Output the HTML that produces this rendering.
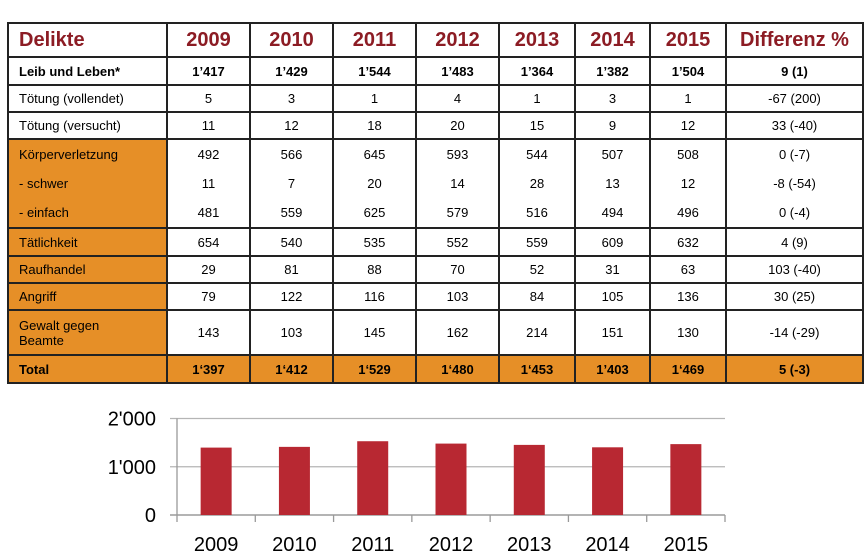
<!DOCTYPE html>
<html><head><meta charset="utf-8"><style>
body{margin:0;width:864px;height:558px;background:#fff;position:relative;overflow:hidden;font-family:"Liberation Sans",sans-serif;}
table{position:absolute;left:7px;top:22px;border-collapse:collapse;table-layout:fixed;width:855px;}
td{border:2px solid #222;padding:0;font-size:13px;text-align:center;color:#000;vertical-align:middle;}
td.l{text-align:left;padding-left:10px;}
tr.h td{font-size:20px;font-weight:bold;color:#8c1c24;}
tr.b td{font-weight:bold;}
.o{background:#e68f27;}
.g div{height:29px;line-height:29px;}
</style></head><body>
<table>
<colgroup><col style="width:159px"><col style="width:83px"><col style="width:83px"><col style="width:83px"><col style="width:83px"><col style="width:76px"><col style="width:75px"><col style="width:76px"><col style="width:137px"></colgroup>
<tr class="h" style="height:34px"><td class="l">Delikte</td><td>2009</td><td>2010</td><td>2011</td><td>2012</td><td>2013</td><td>2014</td><td>2015</td><td>Differenz %</td></tr>
<tr class="b" style="height:28px"><td class="l">Leib und Leben*</td><td>1’417</td><td>1’429</td><td>1’544</td><td>1’483</td><td>1’364</td><td>1’382</td><td>1’504</td><td>9 (1)</td></tr>
<tr style="height:27px"><td class="l">Tötung (vollendet)</td><td>5</td><td>3</td><td>1</td><td>4</td><td>1</td><td>3</td><td>1</td><td>-67 (200)</td></tr>
<tr style="height:27px"><td class="l">Tötung (versucht)</td><td>11</td><td>12</td><td>18</td><td>20</td><td>15</td><td>9</td><td>12</td><td>33 (-40)</td></tr>
<tr class="g" style="height:87px"><td class="l o"><div>Körperverletzung</div><div>- schwer</div><div>- einfach</div></td><td><div>492</div><div>11</div><div>481</div></td><td><div>566</div><div>7</div><div>559</div></td><td><div>645</div><div>20</div><div>625</div></td><td><div>593</div><div>14</div><div>579</div></td><td><div>544</div><div>28</div><div>516</div></td><td><div>507</div><div>13</div><div>494</div></td><td><div>508</div><div>12</div><div>496</div></td><td><div>0 (-7)</div><div>-8 (-54)</div><div>0 (-4)</div></td></tr>
<tr style="height:28px"><td class="l o">Tätlichkeit</td><td>654</td><td>540</td><td>535</td><td>552</td><td>559</td><td>609</td><td>632</td><td>4 (9)</td></tr>
<tr style="height:27px"><td class="l o">Raufhandel</td><td>29</td><td>81</td><td>88</td><td>70</td><td>52</td><td>31</td><td>63</td><td>103 (-40)</td></tr>
<tr style="height:27px"><td class="l o">Angriff</td><td>79</td><td>122</td><td>116</td><td>103</td><td>84</td><td>105</td><td>136</td><td>30 (25)</td></tr>
<tr style="height:45px"><td class="l o" style="line-height:15px">Gewalt gegen<br>Beamte</td><td>143</td><td>103</td><td>145</td><td>162</td><td>214</td><td>151</td><td>130</td><td>-14 (-29)</td></tr>
<tr class="b o" style="height:28px"><td class="l">Total</td><td>1‘397</td><td>1‘412</td><td>1‘529</td><td>1‘480</td><td>1‘453</td><td>1’403</td><td>1‘469</td><td>5 (-3)</td></tr>
</table>
<svg id="chart" width="864" height="558" style="position:absolute;left:0;top:0" font-family="Liberation Sans, sans-serif"></svg>
<script>
const categories=["2009","2010","2011","2012","2013","2014","2015"];
const totals=[1397,1412,1529,1480,1453,1403,1469];
const yTicks=[0,1000,2000];
const yTickLabels=["0","1'000","2'000"];
const svg=document.getElementById('chart');
const NS='http://www.w3.org/2000/svg';
const x0=177,x1=725,y0=515,y1=418.5,yMax=2000;
const bw=(x1-x0)/categories.length;
const y=v=>y0-(v/yMax)*(y0-y1);
const xc=i=>x0+bw*(i+0.5);
function mk(t,a,p){const e=document.createElementNS(NS,t);for(const k in a)e.setAttribute(k,a[k]);(p||svg).appendChild(e);return e;}
yTicks.forEach((v,i)=>{
  const l=mk('line',{x1:170,x2:x1,y1:y(v),y2:y(v),stroke:v===0?'#888':'#b5b5b5','stroke-width':1.3});
  
  
  const t=mk('text',{x:156,y:y(v)+7,'text-anchor':'end','font-size':20,fill:'#000'});
  t.textContent=yTickLabels[i];
  
  
});
const ax=mk('line',{x1:x0,x2:x0,y1:y1,y2:y0+7,stroke:'#999','stroke-width':1.3});


categories.forEach((c,i)=>{
  const tk=mk('line',{x1:x0+bw*(i+1),x2:x0+bw*(i+1),y1:y0,y2:y0+7,stroke:'#999','stroke-width':1.3});
  
  
  const r=mk('rect',{x:xc(i)-15.5,y:y(totals[i]),width:31,height:y0-y(totals[i]),fill:'#b82832'});
  
  
  const t=mk('text',{x:xc(i),y:551,'text-anchor':'middle','font-size':20,fill:'#000'});
  t.textContent=c;
  
  
});
</script>
</body></html>
